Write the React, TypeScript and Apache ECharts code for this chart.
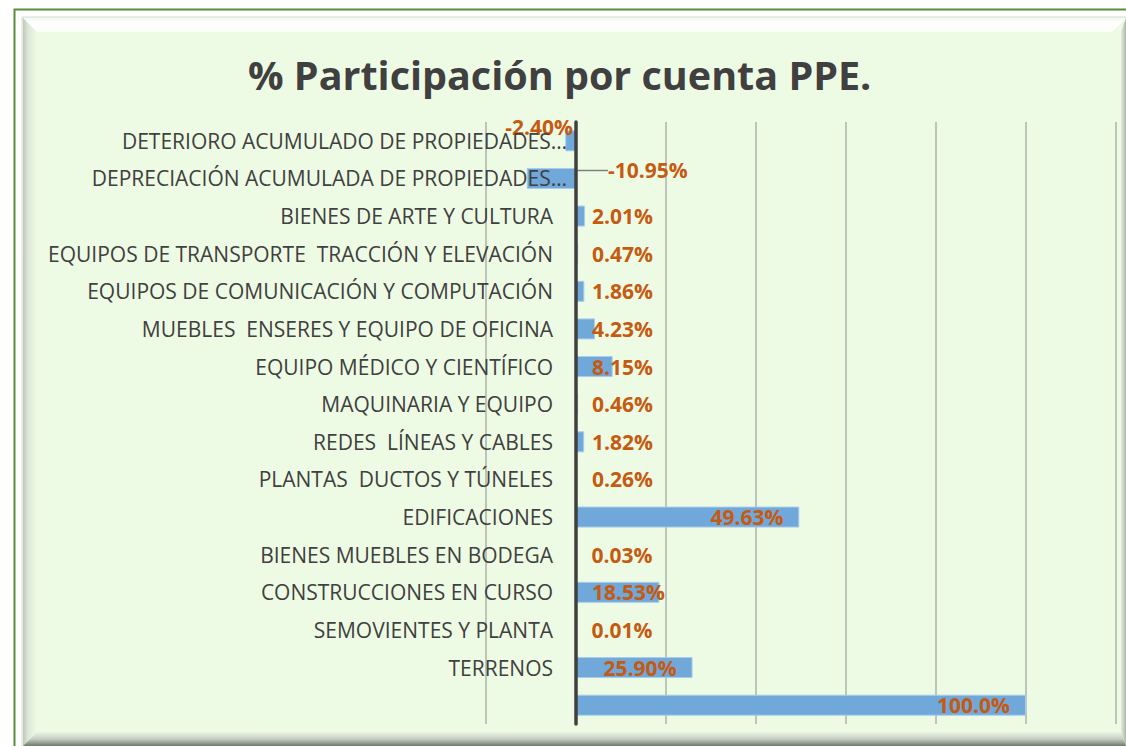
import React, { useEffect, useRef } from "react";
import * as echarts from "echarts";

const categories: string[] = [
  "DETERIORO ACUMULADO DE PROPIEDADES…",
  "DEPRECIACIÓN ACUMULADA DE PROPIEDADES…",
  "BIENES DE ARTE Y CULTURA",
  "EQUIPOS DE TRANSPORTE  TRACCIÓN Y ELEVACIÓN",
  "EQUIPOS DE COMUNICACIÓN Y COMPUTACIÓN",
  "MUEBLES  ENSERES Y EQUIPO DE OFICINA",
  "EQUIPO MÉDICO Y CIENTÍFICO",
  "MAQUINARIA Y EQUIPO",
  "REDES  LÍNEAS Y CABLES",
  "PLANTAS  DUCTOS Y TÚNELES",
  "EDIFICACIONES",
  "BIENES MUEBLES EN BODEGA",
  "CONSTRUCCIONES EN CURSO",
  "SEMOVIENTES Y PLANTA",
  "TERRENOS",
  "",
];

const values: number[] = [
  -2.4, -10.95, 2.01, 0.47, 1.86, 4.23, 8.15, 0.46, 1.82, 0.26, 49.63, 0.03, 18.53, 0.01, 25.9, 100.0,
];

const valueLabels: string[] = [
  "-2.40%", "-10.95%", "2.01%", "0.47%", "1.86%", "4.23%", "8.15%", "0.46%", "1.82%", "0.26%",
  "49.63%", "0.03%", "18.53%", "0.01%", "25.90%", "100.0%",
];

const titleText = "% Participación por cuenta PPE.";

const FONT = "'Open Sans', 'Noto Sans', sans-serif";
const LABEL_COLOR = "#C55A11";

export default function App() {
  const ref = useRef<HTMLDivElement>(null);

  useEffect(() => {
    if (!ref.current) return;
    const chart = echarts.init(ref.current, undefined, { renderer: "svg" });

    const seriesData = values.map((v, i) => {
      const item: any = { value: v };
      if (v >= 20) {
        item.label = { position: "insideRight", distance: 16 };
      } else if (v >= 0) {
        item.label = { position: [16, "50%"], align: "left", verticalAlign: "middle" };
      } else {
        item.label = { position: "right" };
        if (i === 1) item.labelLine = { show: true, lineStyle: { color: "#7F7F7F", width: 1.5 } };
      }
      return item;
    });

    const yData = categories.map((c) =>
      c.endsWith("…") ? { value: c, textStyle: { padding: [0, 0, 0, 0] } } : c
    );

    chart.setOption({
      animation: false,
      backgroundColor: "#FFFFFF",
      title: {
        text: titleText,
        left: 243,
        top: 50,
        textStyle: { fontFamily: FONT, fontWeight: "bold", fontSize: 39.5, color: "#404040" },
      },
      graphic: [
        { type: "rect", z: -10, shape: { x: 22, y: 17, width: 1110, height: 735 }, style: { fill: "#EEFBE4", stroke: "#D5DDD0", lineWidth: 1 } },
        {
          type: "polygon", z: -9,
          shape: { points: [[23, 18], [1126, 18], [1112, 32], [37, 32]] },
          style: { fill: new echarts.graphic.LinearGradient(0, 0, 0, 1, [{ offset: 0, color: "#F4F7F2" }, { offset: 0.3, color: "#FFFFFF" }, { offset: 1, color: "#FBFEF9" }]) },
        },
        {
          type: "polygon", z: -9,
          shape: { points: [[23, 18], [37, 32], [37, 732], [23, 746]] },
          style: { fill: new echarts.graphic.LinearGradient(0, 0, 1, 0, [{ offset: 0, color: "#BFC7BA" }, { offset: 0.35, color: "#DDE6D8" }, { offset: 1, color: "#EEFBE4" }]) },
        },
        {
          type: "polygon", z: -9,
          shape: { points: [[1126, 18], [1121, 32], [1121, 732], [1126, 746]] },
          style: { fill: new echarts.graphic.LinearGradient(0, 0, 1, 0, [{ offset: 0, color: "#E4EEDD" }, { offset: 1, color: "#AEB6AA" }]) },
        },
        {
          type: "polygon", z: -9,
          shape: { points: [[23, 746], [37, 732], [1121, 732], [1126, 746]] },
          style: { fill: new echarts.graphic.LinearGradient(0, 0, 0, 1, [{ offset: 0, color: "#EBF5E3" }, { offset: 0.5, color: "#C6CEC2" }, { offset: 1, color: "#6F786D" }]) },
        },
        { type: "rect", z: -8, shape: { x: 14.5, y: 9.5, width: 1130, height: 760 }, style: { fill: "none", stroke: "#5B8C3A", lineWidth: 2 } },
      ],
      grid: { left: 486, right: 10, top: 122, bottom: 22, containLabel: false },
      xAxis: {
        type: "value",
        min: -20,
        max: 120,
        interval: 20,
        axisLabel: { show: false },
        axisLine: { show: false },
        axisTick: { show: false },
        splitLine: {
          show: true,
          lineStyle: { width: 2, color: "#BCC5B8" },
        },
      },
      yAxis: {
        type: "category",
        inverse: true,
        data: yData,
        z: 5,
        axisLine: { show: true, onZero: true, lineStyle: { color: "#404040", width: 3.5 } },
        axisTick: { show: false },
        splitLine: { show: false },
        axisLabel: {
          margin: -81,
          padding: [0, 14, 0, 0],
          fontFamily: FONT,
          fontSize: 21,
          color: "#404040",
        },
      },
      series: [
        {
          type: "bar",
          data: seriesData,
          barWidth: 21,
          z: 2,
          itemStyle: { color: "#70A8DA", borderColor: "#A9CCEC", borderWidth: 1 },
          label: {
            show: true,
            fontFamily: FONT,
            fontWeight: "bold",
            fontSize: 21,
            color: LABEL_COLOR,
            formatter: (p: any) => valueLabels[p.dataIndex],
          },
          labelLayout: (params: any) => {
            const r = params.rect;
            const right = Math.max(r.x, r.x + r.width);
            if (params.dataIndex === 0) {
              return { x: right - 3, y: r.y - 3, align: "right", verticalAlign: "middle" };
            }
            if (params.dataIndex === 1) {
              return { x: right + 32, y: r.y + r.height / 2 - 8, align: "left", verticalAlign: "middle" };
            }
            return {};
          },
        },
      ],
    });

    return () => chart.dispose();
  }, []);

  return (
    <div
      ref={ref}
      style={{ position: "fixed", left: 0, top: 0, width: 1126, height: 746 }}
    />
  );
}
